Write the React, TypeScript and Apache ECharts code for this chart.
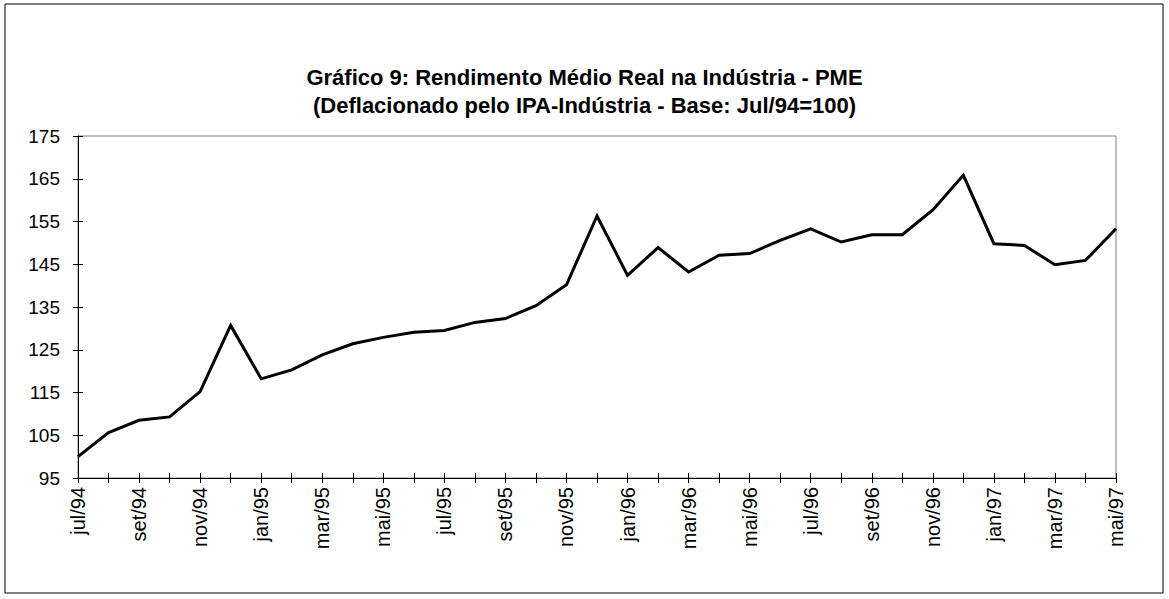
import React, { useEffect, useRef } from "react";
import * as echarts from "echarts";

const months: string[] = [
  "jul/94", "ago/94", "set/94", "out/94", "nov/94", "dez/94",
  "jan/95", "fev/95", "mar/95", "abr/95", "mai/95", "jun/95",
  "jul/95", "ago/95", "set/95", "out/95", "nov/95", "dez/95",
  "jan/96", "fev/96", "mar/96", "abr/96", "mai/96", "jun/96",
  "jul/96", "ago/96", "set/96", "out/96", "nov/96", "dez/96",
  "jan/97", "fev/97", "mar/97", "abr/97", "mai/97",
];

const rendimento: number[] = [
  100.0, 105.6, 108.5, 109.3, 115.2, 130.7,
  118.2, 120.3, 123.8, 126.4, 127.9, 129.1,
  129.5, 131.4, 132.3, 135.3, 140.2, 156.3,
  142.4, 148.9, 143.2, 147.1, 147.5, 150.6,
  153.3, 150.2, 151.9, 151.9, 157.7, 165.8,
  149.8, 149.4, 144.9, 145.9, 153.3,
];

const titleLines: string[] = [
  "Gráfico 9: Rendimento Médio Real na Indústria - PME",
  "(Deflacionado pelo IPA-Indústria - Base: Jul/94=100)",
];

const yMin = 95;
const yMax = 175;
const yStep = 10;

const FONT = "'Liberation Sans', Arial, sans-serif";

export default function App() {
  const ref = useRef<HTMLDivElement>(null);

  useEffect(() => {
    if (!ref.current) return;
    const chart = echarts.init(ref.current, undefined, { renderer: "svg" });
    const axisColor = "#000000";
    chart.setOption({
      animation: false,
      backgroundColor: "#ffffff",
      title: {
        text: titleLines.join("\n"),
        left: "center",
        top: 58,
        textStyle: {
          fontFamily: FONT,
          fontSize: 22,
          fontWeight: "bold",
          color: "#000",
          lineHeight: 28,
        },
      },
      graphic: [
        {
          type: "rect",
          shape: { x: 5, y: 4, width: 1158, height: 589 },
          style: { fill: "none", stroke: "#000", lineWidth: 1 },
          silent: true,
        },
      ],
      grid: {
        left: 78,
        top: 136,
        right: 53,
        bottom: 121,
        show: true,
        borderColor: "#808080",
        borderWidth: 1,
        backgroundColor: "transparent",
      },
      xAxis: [
        {
          type: "category",
          data: months,
          boundaryGap: false,
          position: "bottom",
          axisLine: { onZero: false, lineStyle: { color: axisColor, width: 1 } },
          axisTick: { show: true, interval: 0, length: 5, lineStyle: { color: axisColor } },
          axisLabel: {
            interval: 1,
            rotate: 90,
            margin: 9,
            fontFamily: FONT,
            fontSize: 20,
            color: "#000",
          },
          splitLine: { show: false },
        },
        {
          type: "category",
          data: months,
          boundaryGap: false,
          position: "bottom",
          axisLine: { show: false, onZero: false },
          axisTick: { show: true, inside: true, interval: 0, length: 5, lineStyle: { color: axisColor } },
          axisLabel: { show: false },
          splitLine: { show: false },
        },
      ],
      yAxis: [
        {
          type: "value",
          min: yMin,
          max: yMax,
          interval: yStep,
          position: "left",
          axisLine: { show: true, onZero: false, lineStyle: { color: axisColor, width: 1 } },
          axisTick: { show: true, length: 5, lineStyle: { color: axisColor } },
          axisLabel: {
            margin: 18,
            fontFamily: FONT,
            fontSize: 19,
            color: "#000",
          },
          splitLine: { show: false },
        },
        {
          type: "value",
          min: yMin,
          max: yMax,
          interval: yStep,
          position: "left",
          axisLine: { show: false, onZero: false },
          axisTick: { show: true, inside: true, length: 5, lineStyle: { color: axisColor } },
          axisLabel: { show: false },
          splitLine: { show: false },
        },
      ],
      series: [
        {
          type: "line",
          name: "Rendimento",
          data: rendimento,
          xAxisIndex: 0,
          yAxisIndex: 0,
          symbol: "none",
          lineStyle: { color: "#000", width: 3, join: "miter" },
        },
      ],
    });
    return () => chart.dispose();
  }, []);

  return (
    <div
      ref={ref}
      style={{ position: "absolute", left: 0, top: 0, width: 1169, height: 599 }}
    />
  );
}
